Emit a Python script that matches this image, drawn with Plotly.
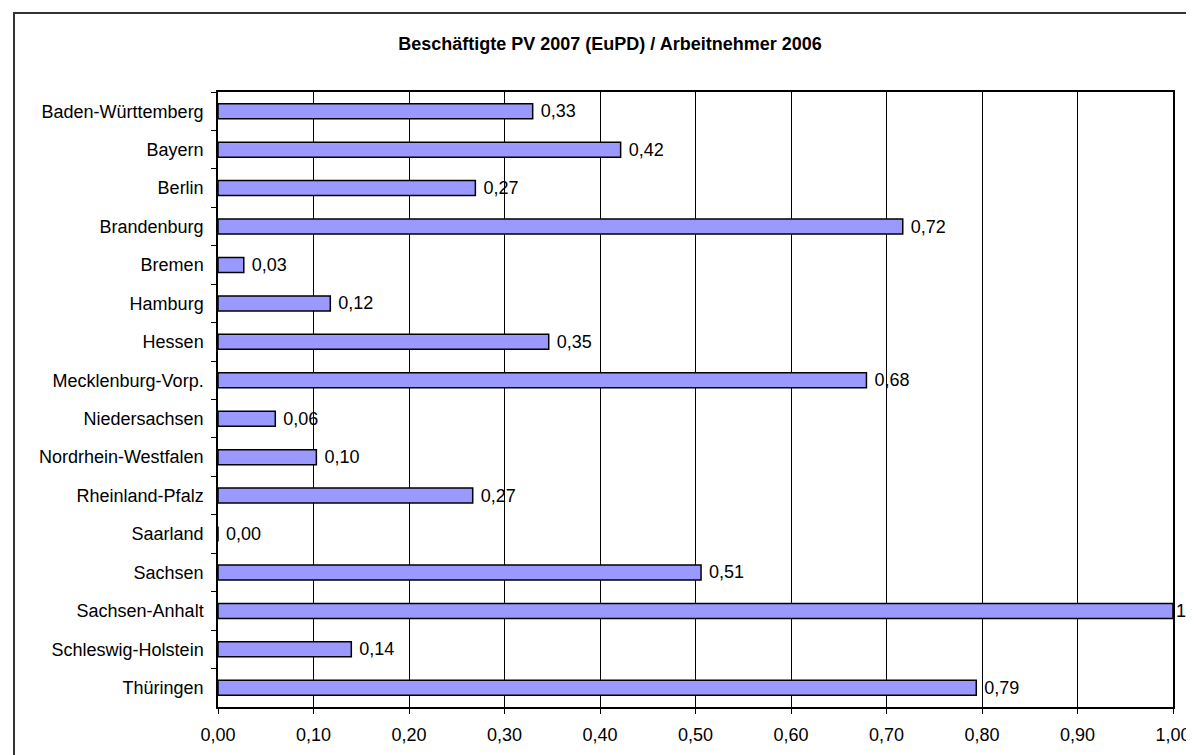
import plotly.graph_objects as go

categories = ["Baden-Württemberg", "Bayern", "Berlin", "Brandenburg", "Bremen", "Hamburg",
              "Hessen", "Mecklenburg-Vorp.", "Niedersachsen", "Nordrhein-Westfalen",
              "Rheinland-Pfalz", "Saarland", "Sachsen", "Sachsen-Anhalt",
              "Schleswig-Holstein", "Thüringen"]
values = [0.3295, 0.4216, 0.2695, 0.717, 0.027, 0.1176, 0.3463, 0.679, 0.060, 0.103,
          0.2667, 0.0, 0.5058, 1.0, 0.1396, 0.794]
title_text = "Beschäftigte PV 2007 (EuPD) / Arbeitnehmer 2006"
x_ticks = [0.0, 0.1, 0.2, 0.3, 0.4, 0.5, 0.6, 0.7, 0.8, 0.9, 1.0]

W, H = 1194, 755
L, R, T, B = 210, 1165, 84, 699

FONT = "Liberation Sans, Arial, sans-serif"

# data labels in German number format; the label at the axis end sits flush to the bar
labels = [("" if v >= 1.0 else "\u00a0") + f"{v:.2f}".replace(".", ",") for v in values]

fig = go.Figure(go.Bar(
    y=categories, x=values, orientation="h",
    marker=dict(color="#9999FF", line=dict(color="black", width=1.5)),
    text=labels, texttemplate="%{text}", textposition="outside", cliponaxis=False,
    constraintext="none",
    textfont=dict(family=FONT, size=18, color="black"),
))

def px_to_paper_x(px):
    return (px - L) / (R - L)

def px_to_paper_y(py):
    return (B - py) / (B - T)

fig.update_layout(
    width=W, height=H,
    margin=dict(l=L, r=W - R, t=T, b=H - B, pad=0),
    paper_bgcolor="white", plot_bgcolor="white",
    separators=",.",
    bargap=0.61,
    showlegend=False,
    font=dict(family=FONT, size=18, color="black"),
    title=dict(text="<b>" + title_text + "</b>", x=602 / W, xref="container",
               xanchor="center", y=1 - 36 / H, yref="container", yanchor="middle",
               font=dict(family=FONT, size=18, color="black")),
    xaxis=dict(range=[0, 1], tickvals=x_ticks, tickformat=".2f",
               showgrid=True, gridcolor="black", gridwidth=1,
               showline=True, linecolor="black", linewidth=1.5, mirror=True,
               ticks="outside", ticklen=5, tickcolor="black",
               ticklabelstandoff=6, zeroline=False,
               tickfont=dict(family=FONT, size=18, color="black")),
    yaxis=dict(autorange="reversed", tickson="boundaries",
               ticks="outside", ticklen=5, tickcolor="black",
               showline=True, linecolor="black", linewidth=1.5, mirror=True,
               showgrid=False, ticklabelstandoff=9,
               tickfont=dict(family=FONT, size=18, color="black")),
    shapes=[dict(type="rect", xref="paper", yref="paper",
                 x0=px_to_paper_x(6), x1=px_to_paper_x(1210),
                 y0=px_to_paper_y(770), y1=px_to_paper_y(5),
                 line=dict(color="#333333", width=2), fillcolor="rgba(0,0,0,0)",
                 layer="above")],
)

fig.write_html("out.html")
